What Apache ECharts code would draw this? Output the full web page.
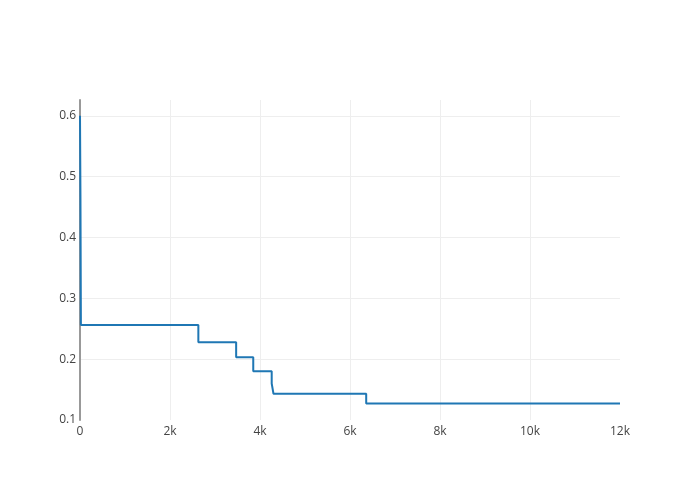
<!DOCTYPE html>
<html><head><meta charset="utf-8">
<script src="https://cdn.jsdelivr.net/npm/echarts@6/dist/echarts.min.js"></script>
<style>html,body{margin:0;padding:0;background:#fff}#c{width:700px;height:500px}</style>
</head><body><div id="c"></div>
<script>
const xValues = [0, 10, 20, 2630, 3470, 3850, 4260, 4300, 6360, 12000];
const yValues = [0.6, 0.467, 0.256, 0.228, 0.203, 0.180, 0.160, 0.143, 0.127, 0.127];
const xTicks = {0:'0',2000:'2k',4000:'4k',6000:'6k',8000:'8k',10000:'10k',12000:'12k'};

const chart = echarts.init(document.getElementById('c'), null, {renderer:'canvas'});
chart.setOption({
  animation:false,
  backgroundColor:'#fff',
  grid:{left:80,right:80,top:100,bottom:80,containLabel:false},
  xAxis:{type:'value',min:0,max:12000,interval:2000,
    axisLine:{show:false},axisTick:{show:false},
    splitLine:{show:true,showMinLine:false,showMaxLine:false,lineStyle:{color:'#eee',width:1}},
    axisLabel:{color:'#444',fontFamily:'Open Sans',fontSize:12,margin:6,formatter:v=>xTicks[v]}},
  yAxis:{type:'value',min:0.1,max:0.626,interval:0.1,
    axisLine:{show:true,onZero:false,lineStyle:{color:'#999',width:2}},axisTick:{show:false},
    splitLine:{show:true,showMinLine:false,showMaxLine:false,lineStyle:{color:'#eee',width:1}},
    axisLabel:{color:'#444',fontFamily:'Open Sans',fontSize:12,margin:4,
      showMaxLabel:false,formatter:v=>v.toFixed(1)}},
  series:[{type:'line',step:'end',symbol:'none',
    data:xValues.map((x,i)=>[x,yValues[i]]),
    lineStyle:{color:'#1f77b4',width:2}}]
});
</script></body></html>
